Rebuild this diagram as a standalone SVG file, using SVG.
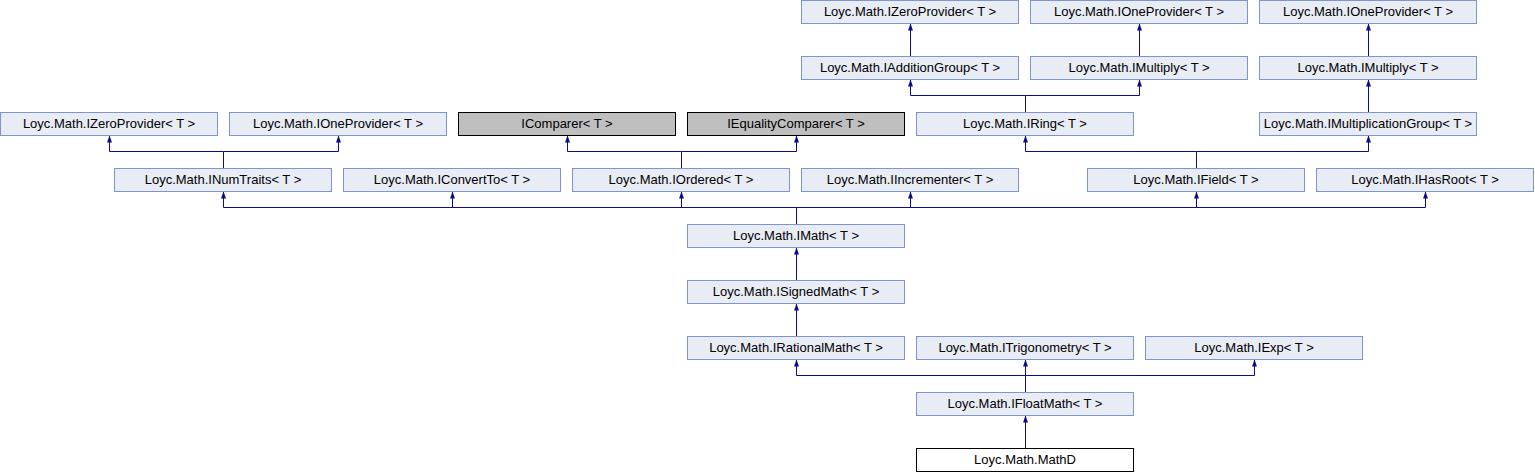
<svg xmlns="http://www.w3.org/2000/svg" width="1535" height="472" viewBox="0 0 1535 472">
<style>
rect{stroke-width:1}
.n rect{fill:#E8ECF5;stroke:#7F94CE}
.g rect{fill:#BFBFBF;stroke:#000}
.w rect{fill:#FFF;stroke:#000}
text{font-family:"Liberation Sans",Arial,sans-serif;font-size:13px;fill:#000;text-anchor:middle}
#edges path{fill:none;stroke:#0C0C8C;stroke-width:1}
#edges path.a{marker-end:url(#ah)}
</style>
<defs>
<marker id="ah" markerUnits="userSpaceOnUse" markerWidth="8" markerHeight="6" refX="7" refY="3" orient="auto" viewBox="0 0 8 6">
<path d="M0,0.5 L7,3 L0,5.5 z" fill="#0C0C8C" stroke="none"/>
</marker>
</defs>
<rect width="1535" height="472" fill="#FFF"/>
<g id="edges">
<!-- row1 -> row0 -->
<path class="a" d="M910.5,56.5 V23.5"/>
<path class="a" d="M1139.5,56.5 V23.5"/>
<path class="a" d="M1368.5,56.5 V23.5"/>
<!-- IRing -> IAdditionGroup, IMultiply -->
<path d="M1025.5,112.5 V95.5"/>
<path class="a" d="M1025.5,95.5 H910.5 V79.5"/>
<path class="a" d="M1025.5,95.5 H1139.5 V79.5"/>
<!-- IMultiplicationGroup -> IMultiply -->
<path class="a" d="M1368.5,112.5 V79.5"/>
<!-- INumTraits -> IZeroProvider, IOneProvider -->
<path d="M223.5,168.5 V151.5"/>
<path class="a" d="M223.5,151.5 H109.5 V135.5"/>
<path class="a" d="M223.5,151.5 H338.5 V135.5"/>
<!-- IOrdered -> IComparer, IEqualityComparer -->
<path d="M681.5,168.5 V151.5"/>
<path class="a" d="M681.5,151.5 H567.5 V135.5"/>
<path class="a" d="M681.5,151.5 H796.5 V135.5"/>
<!-- IField -> IRing, IMultiplicationGroup -->
<path d="M1196.5,168.5 V151.5"/>
<path class="a" d="M1196.5,151.5 H1025.5 V135.5"/>
<path class="a" d="M1196.5,151.5 H1368.5 V135.5"/>
<!-- IMath -> row3 -->
<path d="M796.5,224.5 V207.5"/>
<path class="a" d="M796.5,207.5 H223.5 V191.5"/>
<path class="a" d="M796.5,207.5 H452.5 V191.5"/>
<path class="a" d="M796.5,207.5 H681.5 V191.5"/>
<path class="a" d="M796.5,207.5 H910.5 V191.5"/>
<path class="a" d="M796.5,207.5 H1196.5 V191.5"/>
<path class="a" d="M796.5,207.5 H1425.5 V191.5"/>
<!-- ISignedMath -> IMath -->
<path class="a" d="M796.5,280.5 V247.5"/>
<!-- IRationalMath -> ISignedMath -->
<path class="a" d="M796.5,336.5 V303.5"/>
<!-- IFloatMath -> row6 -->
<path d="M1025.5,392.5 V375.5"/>
<path class="a" d="M1025.5,375.5 H796.5 V359.5"/>
<path class="a" d="M1025.5,375.5 V359.5"/>
<path class="a" d="M1025.5,375.5 H1254.5 V359.5"/>
<!-- MathD -> IFloatMath -->
<path class="a" d="M1025.5,448.5 V415.5"/>
</g>
<!-- row 0 -->
<g id="n_zero_top" class="n"><rect x="801.5" y="0.5" width="217" height="23"/><text x="910" y="16">Loyc.Math.IZeroProvider&lt; T &gt;</text></g>
<g id="n_one_top1" class="n"><rect x="1030.5" y="0.5" width="217" height="23"/><text x="1139" y="16">Loyc.Math.IOneProvider&lt; T &gt;</text></g>
<g id="n_one_top2" class="n"><rect x="1259.5" y="0.5" width="217" height="23"/><text x="1368" y="16">Loyc.Math.IOneProvider&lt; T &gt;</text></g>
<!-- row 1 -->
<g id="n_addgroup" class="n"><rect x="801.5" y="56.5" width="217" height="23"/><text x="910" y="72">Loyc.Math.IAdditionGroup&lt; T &gt;</text></g>
<g id="n_multiply1" class="n"><rect x="1030.5" y="56.5" width="217" height="23"/><text x="1139" y="72">Loyc.Math.IMultiply&lt; T &gt;</text></g>
<g id="n_multiply2" class="n"><rect x="1259.5" y="56.5" width="217" height="23"/><text x="1368" y="72">Loyc.Math.IMultiply&lt; T &gt;</text></g>
<!-- row 2 -->
<g id="n_zero" class="n"><rect x="0.5" y="112.5" width="217" height="23"/><text x="109" y="128">Loyc.Math.IZeroProvider&lt; T &gt;</text></g>
<g id="n_one" class="n"><rect x="229.5" y="112.5" width="217" height="23"/><text x="338" y="128">Loyc.Math.IOneProvider&lt; T &gt;</text></g>
<g id="n_comparer" class="g"><rect x="458.5" y="112.5" width="217" height="23"/><text x="567" y="128">IComparer&lt; T &gt;</text></g>
<g id="n_eqcomparer" class="g"><rect x="687.5" y="112.5" width="217" height="23"/><text x="796" y="128">IEqualityComparer&lt; T &gt;</text></g>
<g id="n_ring" class="n"><rect x="916.5" y="112.5" width="217" height="23"/><text x="1025" y="128">Loyc.Math.IRing&lt; T &gt;</text></g>
<g id="n_multgroup" class="n"><rect x="1259.5" y="112.5" width="217" height="23"/><text x="1368" y="128">Loyc.Math.IMultiplicationGroup&lt; T &gt;</text></g>
<!-- row 3 -->
<g id="n_numtraits" class="n"><rect x="114.5" y="168.5" width="217" height="23"/><text x="223" y="184">Loyc.Math.INumTraits&lt; T &gt;</text></g>
<g id="n_convertto" class="n"><rect x="343.5" y="168.5" width="217" height="23"/><text x="452" y="184">Loyc.Math.IConvertTo&lt; T &gt;</text></g>
<g id="n_ordered" class="n"><rect x="572.5" y="168.5" width="217" height="23"/><text x="681" y="184">Loyc.Math.IOrdered&lt; T &gt;</text></g>
<g id="n_incrementer" class="n"><rect x="801.5" y="168.5" width="217" height="23"/><text x="910" y="184">Loyc.Math.IIncrementer&lt; T &gt;</text></g>
<g id="n_field" class="n"><rect x="1087.5" y="168.5" width="217" height="23"/><text x="1196" y="184">Loyc.Math.IField&lt; T &gt;</text></g>
<g id="n_hasroot" class="n"><rect x="1316.5" y="168.5" width="217" height="23"/><text x="1425" y="184">Loyc.Math.IHasRoot&lt; T &gt;</text></g>
<!-- row 4-8 -->
<g id="n_math" class="n"><rect x="687.5" y="224.5" width="217" height="23"/><text x="796" y="240">Loyc.Math.IMath&lt; T &gt;</text></g>
<g id="n_signedmath" class="n"><rect x="687.5" y="280.5" width="217" height="23"/><text x="796" y="296">Loyc.Math.ISignedMath&lt; T &gt;</text></g>
<g id="n_rationalmath" class="n"><rect x="687.5" y="336.5" width="217" height="23"/><text x="796" y="352">Loyc.Math.IRationalMath&lt; T &gt;</text></g>
<g id="n_trig" class="n"><rect x="916.5" y="336.5" width="217" height="23"/><text x="1025" y="352">Loyc.Math.ITrigonometry&lt; T &gt;</text></g>
<g id="n_exp" class="n"><rect x="1145.5" y="336.5" width="217" height="23"/><text x="1254" y="352">Loyc.Math.IExp&lt; T &gt;</text></g>
<g id="n_floatmath" class="n"><rect x="916.5" y="392.5" width="217" height="23"/><text x="1025" y="408">Loyc.Math.IFloatMath&lt; T &gt;</text></g>
<g id="n_mathd" class="w"><rect x="916.5" y="448.5" width="217" height="23"/><text x="1025" y="464">Loyc.Math.MathD</text></g>
</svg>
